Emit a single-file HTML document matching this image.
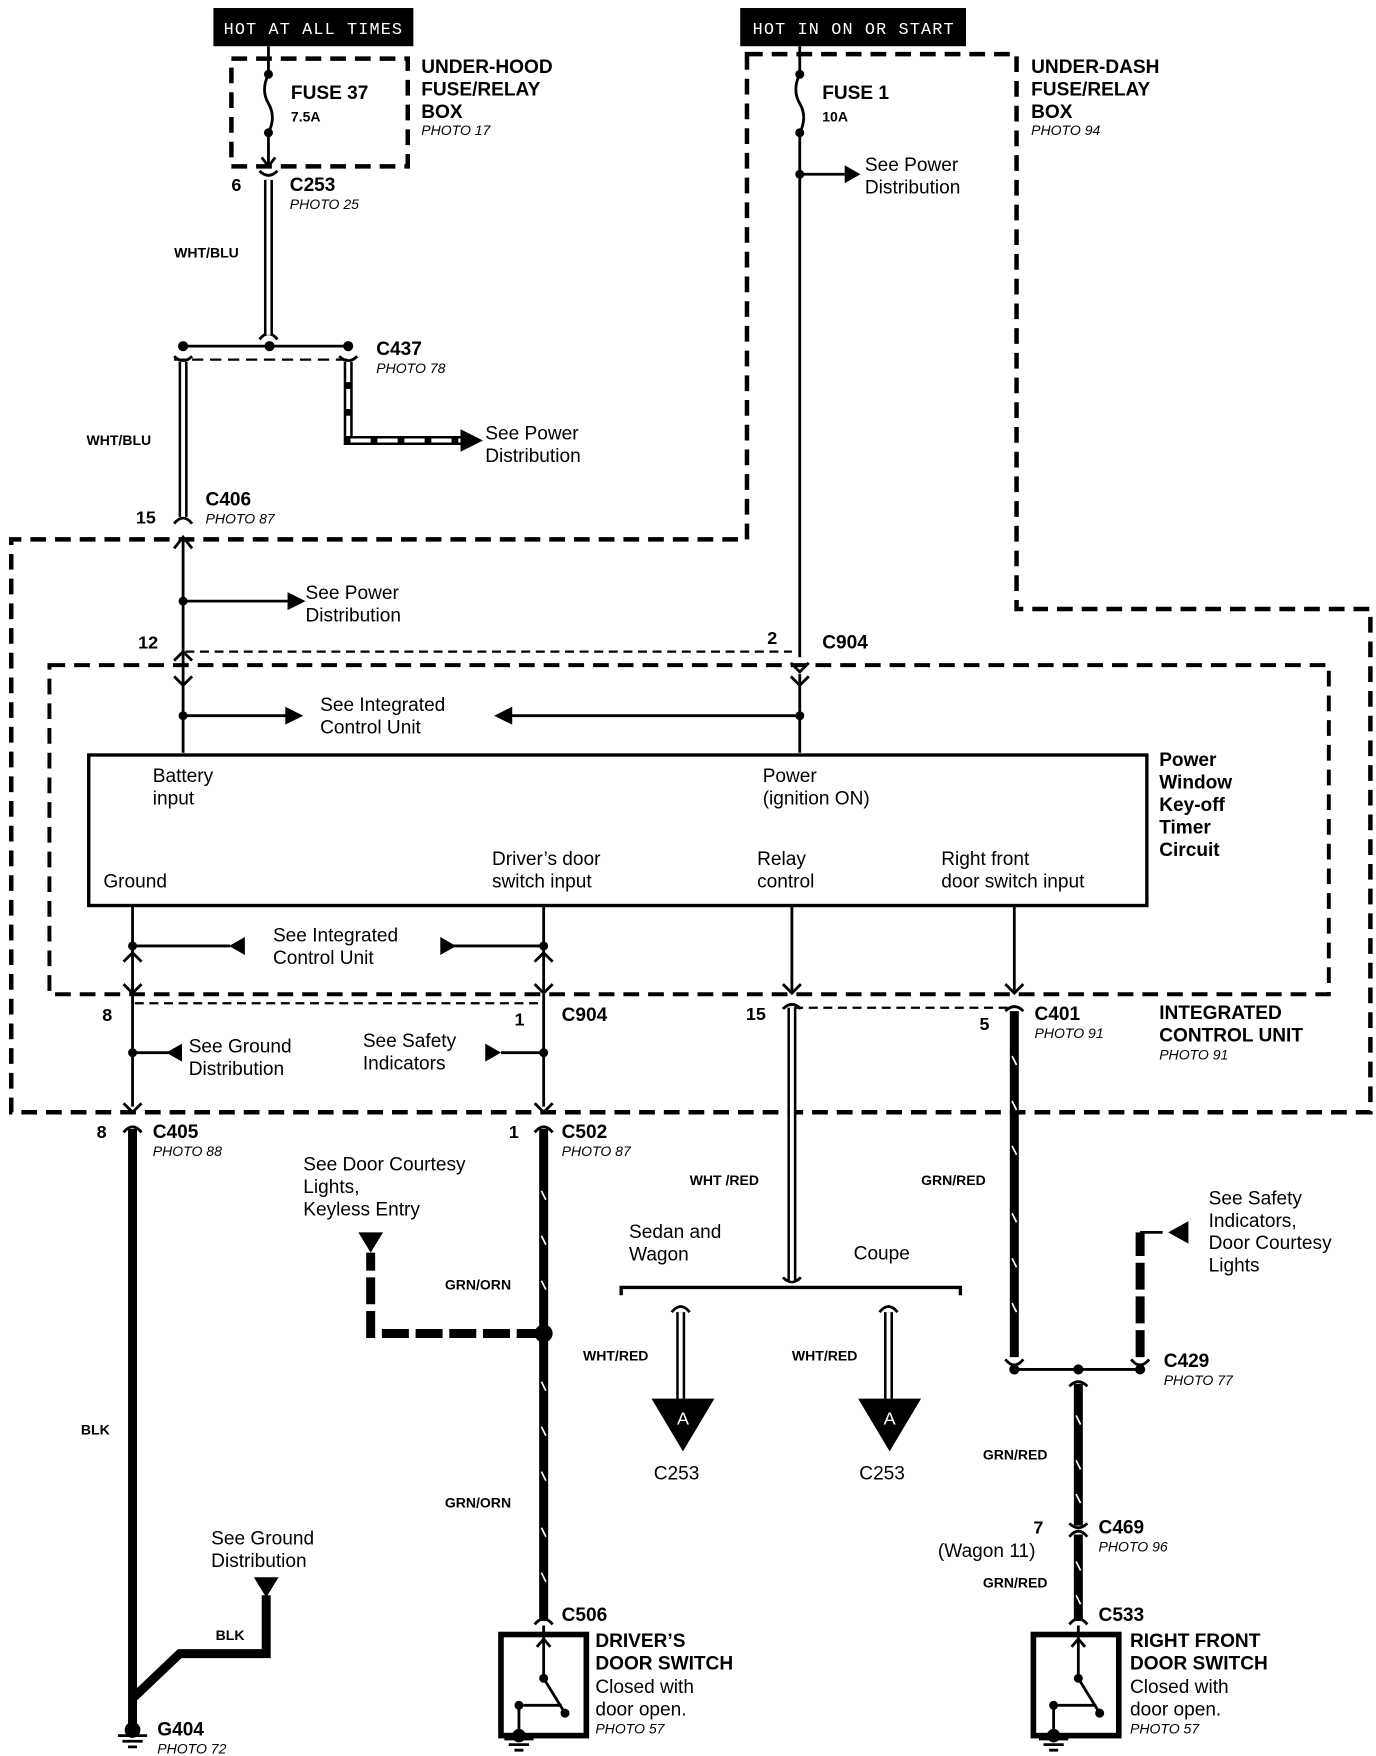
<!DOCTYPE html>
<html><head><meta charset="utf-8"><style>
html,body{margin:0;padding:0;background:#fff}
svg{display:block}
text{font-family:"Liberation Sans",Arial,sans-serif;fill:#000}
.b{font-weight:bold;font-size:17px}
.r{font-size:17px}
.s{font-weight:bold;font-size:12.5px}
.i{font-style:italic;font-size:12.5px}
.n{font-weight:bold;font-size:16px}
</style></head><body>
<svg width="1376" height="1756" viewBox="0 0 1225 1563" xmlns="http://www.w3.org/2000/svg">
<rect x="190" y="7" width="178" height="34" fill="#000"/>
<text x="279" y="30" text-anchor="middle" style="font-family:'Liberation Mono',monospace;font-size:15px;fill:#fff;letter-spacing:1px">HOT AT ALL TIMES</text>
<rect x="659" y="7" width="201" height="34" fill="#000"/>
<text x="760" y="30" text-anchor="middle" style="font-family:'Liberation Mono',monospace;font-size:15px;fill:#fff;letter-spacing:1px">HOT IN ON OR START</text>

<g fill="none" stroke="#000" stroke-width="4" stroke-dasharray="14,8">
<rect x="206" y="52" width="157" height="96"/>
<path d="M665,48 H905 V542 H1220 V990 H10 V480 H665 Z"/>
<rect x="44" y="592" width="1139" height="293" stroke-width="3.5"/>
</g>

<g fill="none" stroke="#000" stroke-width="2.5">
<path d="M239,41 V66 Q232,80 239,92 Q246,104 239,118 V146"/>
<path d="M233,140 L239,148 L245,140"/>
<path d="M712,41 V66 Q705,80 712,92 Q719,104 712,118 V585"/>
<path d="M712,155 H752"/>
<path d="M163,308 H310"/>
<path d="M163,478 V670"/>
<path d="M163,535 H258"/>
<path d="M163,637 H255"/>
<path d="M712,600 V670"/>
<path d="M712,637 H455"/>
<path d="M165,580 H705" stroke-dasharray="8,5" stroke-width="2"/>
<path d="M118,806 V985"/>
<path d="M484,806 V985"/>
<path d="M705,806 V882"/>
<path d="M903,806 V882"/>
<path d="M118,842 H205"/><path d="M400,842 H484"/>
<path d="M118,937 H150"/><path d="M446,937 H484"/>
<path d="M120,893 H482" stroke-dasharray="8,5" stroke-width="2"/>
<path d="M707,897 H901" stroke-dasharray="8,5" stroke-width="2"/>
<path d="M231,152 Q239,160 247,152 M231,302 Q239,292 247,302"/>
<path d="M155,317 Q163,325 171,317 M302,317 Q310,325 318,317"/>
<path d="M155,466 Q163,456 171,466 M155,488 L163,478 L171,488"/>
<path d="M155,588 L163,580 L171,588 M155,602 L163,610 L171,602"/>
<path d="M704,590 L712,598 L720,590 M704,602 L712,610 L720,602"/>
<path d="M110,856 L118,848 L126,856 M110,876 L118,884 L126,876"/>
<path d="M476,856 L484,848 L492,856 M476,876 L484,884 L492,876"/>
<path d="M697,876 L705,884 L713,876 M697,898 Q705,890 713,898"/>
<path d="M895,876 L903,884 L911,876 M895,900 Q903,892 911,900"/>
<path d="M110,982 L118,990 L126,982 M110,1008 Q118,998 126,1008"/>
<path d="M476,982 L484,990 L492,982 M476,1008 Q484,998 492,1008"/>
<path d="M697,1137 Q705,1145 713,1137"/>
<path d="M598,1168 Q606,1158 614,1168 M783,1168 Q791,1158 799,1168"/>
<path d="M476,1446 Q484,1436 492,1446 M952,1446 Q960,1436 968,1446"/>
<path d="M895,1210 Q903,1220 911,1210 M1007,1210 Q1015,1220 1023,1210 M952,1234 Q960,1226 968,1234"/>
<path d="M952,1356 Q960,1364 968,1356 M952,1368 Q960,1358 968,1368"/>
<path d="M553,1153 V1146 H855 V1153" stroke-width="3"/>
<path d="M903,1219 H1015" stroke-width="2.5"/>
<path d="M1015,1097 H1035"/>
</g>

<g fill="none" stroke="#000" stroke-width="8">
<path d="M239,160 V298"/>
<path d="M163,322 V460"/>
<path d="M310,322 V392 H412"/>
<path d="M705,897 V1140"/>
<path d="M606,1168 V1245"/>
<path d="M791,1168 V1245"/>
</g>
<g fill="none" stroke="#fff" stroke-width="3.5">
<path d="M239,160 V298"/>
<path d="M163,322 V460"/>
<path d="M310,322 V392 H412" stroke-dasharray="18,6"/>
<path d="M705,897 V1140"/>
<path d="M606,1168 V1245"/>
<path d="M791,1168 V1245"/>
</g>
<path d="M155,320 H310" stroke="#000" stroke-width="2" stroke-dasharray="10,6"/>
<polygon points="410,382 430,392 410,402" fill="#000"/>

<g fill="none" stroke="#000" stroke-width="8">
<path d="M118,1005 V1540"/>
<path d="M484,1005 V1443"/>
<path d="M484,1187 H330 V1115" stroke-dasharray="24,6"/>
<path d="M903,900 V1208"/>
<path d="M1015,1208 V1097" stroke-dasharray="24,6"/>
<path d="M960,1232 V1358"/>
<path d="M960,1366 V1443"/>
<path d="M237,1420 V1472 H160 L118,1512"/>
</g>
<g stroke="#fff" stroke-width="1.5">
<path d="M482,1060 l4,8 M482,1100 l4,8 M482,1140 l4,8 M482,1230 l4,8 M482,1270 l4,8 M482,1310 l4,8 M482,1360 l4,8 M482,1400 l4,8"/>
<path d="M901,940 l4,8 M901,980 l4,8 M901,1020 l4,8 M901,1080 l4,8 M901,1120 l4,8 M901,1160 l4,8"/>
<path d="M958,1260 l4,8 M958,1300 l4,8 M958,1330 l4,8 M958,1390 l4,8 M958,1420 l4,8"/>
</g>

<g fill="#000">
<circle cx="239" cy="66" r="4"/><circle cx="239" cy="118" r="4"/>
<circle cx="712" cy="66" r="4"/><circle cx="712" cy="118" r="4"/><circle cx="712" cy="155" r="4"/>
<circle cx="163" cy="308" r="4.5"/><circle cx="240" cy="308" r="4.5"/><circle cx="310" cy="308" r="4.5"/>
<circle cx="163" cy="535" r="4"/><circle cx="163" cy="637" r="4"/><circle cx="712" cy="637" r="4"/>
<circle cx="118" cy="842" r="4"/><circle cx="484" cy="842" r="4"/>
<circle cx="118" cy="937" r="4"/><circle cx="484" cy="937" r="4"/>
<circle cx="484" cy="1187" r="8"/>
<circle cx="903" cy="1219" r="4.5"/><circle cx="960" cy="1219" r="4.5"/><circle cx="1015" cy="1219" r="4.5"/>
<polygon points="752,147 766,155 752,163"/>
<polygon points="256,527 272,535 256,543"/>
<polygon points="254,629 270,637 254,645"/>
<polygon points="456,629 440,637 456,645"/>
<polygon points="218,834 204,842 218,850"/>
<polygon points="392,834 406,842 392,850"/>
<polygon points="162,929 148,937 162,945"/>
<polygon points="432,929 446,937 432,945"/>
<polygon points="319,1097 341,1097 330,1115"/>
<polygon points="226,1404 248,1404 237,1422"/>
<polygon points="1058,1087 1040,1097 1058,1107"/>
<polygon points="580,1245 636,1245 608,1292"/>
<polygon points="764,1245 820,1245 792,1292"/>
</g>
<text x="608" y="1268" text-anchor="middle" style="font-size:16px;fill:#fff">A</text>
<text x="792" y="1268" text-anchor="middle" style="font-size:16px;fill:#fff">A</text>

<rect x="79" y="672" width="942" height="134" fill="#fff" stroke="#000" stroke-width="3"/>

<g fill="none" stroke="#000">
<rect x="446" y="1455" width="76" height="90" stroke-width="5"/>
<rect x="920" y="1455" width="76" height="90" stroke-width="5"/>
<g stroke-width="2.5">
<path d="M484,1447 V1494 L503,1525 M478,1466 L484,1459 L490,1466 M462,1518 V1548 M466,1518 H500" />
<path d="M960,1447 V1494 L979,1525 M954,1466 L960,1459 L966,1466 M938,1518 V1548 M942,1518 H976" />
<path d="M449,1548 H475 M453,1553 H471 M458,1558 H466"/>
<path d="M925,1548 H951 M929,1553 H947 M934,1558 H942"/>
<path d="M105,1545 H131 M109,1550 H127 M114,1555 H122"/>
</g></g>
<g fill="#000"><circle cx="484" cy="1494" r="4"/><circle cx="503" cy="1525" r="4"/><circle cx="462" cy="1518" r="4"/><circle cx="462" cy="1545" r="6"/>
<circle cx="960" cy="1494" r="4"/><circle cx="979" cy="1525" r="4"/><circle cx="938" cy="1518" r="4"/><circle cx="938" cy="1545" r="6"/>
<circle cx="118" cy="1540" r="7"/></g>

<text class="b" x="259" y="88">FUSE 37</text><text class="s" x="259" y="108">7.5A</text>
<text class="b" x="375" y="65">UNDER-HOOD</text><text class="b" x="375" y="85">FUSE/RELAY</text><text class="b" x="375" y="105">BOX</text><text class="i" x="375" y="120">PHOTO 17</text>
<text class="b" x="732" y="88">FUSE 1</text><text class="s" x="732" y="108">10A</text>
<text class="b" x="918" y="65">UNDER-DASH</text><text class="b" x="918" y="85">FUSE/RELAY</text><text class="b" x="918" y="105">BOX</text><text class="i" x="918" y="120">PHOTO 94</text>
<text class="r" x="770" y="152">See Power</text><text class="r" x="770" y="172">Distribution</text>
<text class="n" x="206" y="170">6</text><text class="b" x="258" y="170">C253</text><text class="i" x="258" y="186">PHOTO 25</text>
<text class="s" x="155" y="229">WHT/BLU</text>
<text class="b" x="335" y="316">C437</text><text class="i" x="335" y="332">PHOTO 78</text>
<text class="s" x="77" y="396">WHT/BLU</text>
<text class="r" x="432" y="391">See Power</text><text class="r" x="432" y="411">Distribution</text>
<text class="n" x="121" y="466">15</text><text class="b" x="183" y="450">C406</text><text class="i" x="183" y="466">PHOTO 87</text>
<text class="r" x="272" y="533">See Power</text><text class="r" x="272" y="553">Distribution</text>
<text class="n" x="123" y="577">12</text><text class="n" x="683" y="573">2</text><text class="b" x="732" y="577">C904</text>
<text class="r" x="285" y="633">See Integrated</text><text class="r" x="285" y="653">Control Unit</text>
<text class="r" x="136" y="696">Battery</text><text class="r" x="136" y="716">input</text>
<text class="r" x="679" y="696">Power</text><text class="r" x="679" y="716">(ignition ON)</text>
<text class="r" x="92" y="790">Ground</text>
<text class="r" x="438" y="770">Driver’s door</text><text class="r" x="438" y="790">switch input</text>
<text class="r" x="674" y="770">Relay</text><text class="r" x="674" y="790">control</text>
<text class="r" x="838" y="770">Right front</text><text class="r" x="838" y="790">door switch input</text>
<text class="b" x="1032" y="682">Power</text><text class="b" x="1032" y="702">Window</text><text class="b" x="1032" y="722">Key-off</text><text class="b" x="1032" y="742">Timer</text><text class="b" x="1032" y="762">Circuit</text>
<text class="r" x="243" y="838">See Integrated</text><text class="r" x="243" y="858">Control Unit</text>
<text class="n" x="91" y="909">8</text><text class="n" x="458" y="913">1</text><text class="b" x="500" y="909">C904</text>
<text class="n" x="664" y="908">15</text><text class="n" x="872" y="917">5</text><text class="b" x="921" y="908">C401</text><text class="i" x="921" y="924">PHOTO 91</text>
<text class="b" x="1032" y="907">INTEGRATED</text><text class="b" x="1032" y="927">CONTROL UNIT</text><text class="i" x="1032" y="943">PHOTO 91</text>
<text class="r" x="168" y="937">See Ground</text><text class="r" x="168" y="957">Distribution</text>
<text class="r" x="323" y="932">See Safety</text><text class="r" x="323" y="952">Indicators</text>
<text class="n" x="86" y="1013">8</text><text class="b" x="136" y="1013">C405</text><text class="i" x="136" y="1029">PHOTO 88</text>
<text class="n" x="453" y="1013">1</text><text class="b" x="500" y="1013">C502</text><text class="i" x="500" y="1029">PHOTO 87</text>
<text class="r" x="270" y="1042">See Door Courtesy</text><text class="r" x="270" y="1062">Lights,</text><text class="r" x="270" y="1082">Keyless Entry</text>
<text class="s" x="396" y="1148">GRN/ORN</text><text class="s" x="396" y="1342">GRN/ORN</text>
<text class="s" x="614" y="1055">WHT /RED</text><text class="s" x="820" y="1055">GRN/RED</text>
<text class="r" x="560" y="1102">Sedan and</text><text class="r" x="560" y="1122">Wagon</text><text class="r" x="760" y="1121">Coupe</text>
<text class="s" x="519" y="1211">WHT/RED</text><text class="s" x="705" y="1211">WHT/RED</text>
<text class="r" x="582" y="1317">C253</text><text class="r" x="765" y="1317">C253</text>
<text class="r" x="1076" y="1072">See Safety</text><text class="r" x="1076" y="1092">Indicators,</text><text class="r" x="1076" y="1112">Door Courtesy</text><text class="r" x="1076" y="1132">Lights</text>
<text class="b" x="1036" y="1217">C429</text><text class="i" x="1036" y="1233">PHOTO 77</text>
<text class="s" x="875" y="1299">GRN/RED</text>
<text class="n" x="920" y="1365">7</text><text class="r" x="835" y="1386">(Wagon 11)</text><text class="b" x="978" y="1365">C469</text><text class="i" x="978" y="1381">PHOTO 96</text>
<text class="s" x="875" y="1413">GRN/RED</text>
<text class="b" x="978" y="1443">C533</text>
<text class="b" x="1006" y="1466">RIGHT FRONT</text><text class="b" x="1006" y="1486">DOOR SWITCH</text><text class="r" x="1006" y="1507">Closed with</text><text class="r" x="1006" y="1527">door open.</text><text class="i" x="1006" y="1543">PHOTO 57</text>
<text class="b" x="500" y="1443">C506</text>
<text class="b" x="530" y="1466">DRIVER’S</text><text class="b" x="530" y="1486">DOOR SWITCH</text><text class="r" x="530" y="1507">Closed with</text><text class="r" x="530" y="1527">door open.</text><text class="i" x="530" y="1543">PHOTO 57</text>
<text class="s" x="72" y="1277">BLK</text>
<text class="r" x="188" y="1375">See Ground</text><text class="r" x="188" y="1395">Distribution</text>
<text class="s" x="192" y="1460">BLK</text>
<text class="b" x="140" y="1545">G404</text><text class="i" x="140" y="1561">PHOTO 72</text>
</svg>
</body></html>
